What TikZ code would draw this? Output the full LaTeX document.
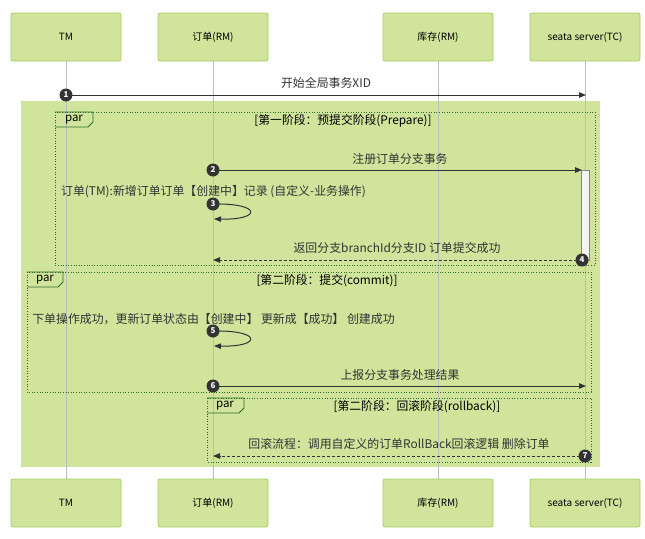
\documentclass[tikz,border=0pt]{standalone}
\usepackage{fontspec}
\setmainfont{Noto Sans CJK SC}
\usetikzlibrary{arrows.meta}
\definecolor{bggreen}{HTML}{D0E49C}
\definecolor{boxborder}{HTML}{A8CF62}
\definecolor{framegreen}{HTML}{2F6B2A}
\definecolor{lifegray}{HTML}{BDBDBD}
\definecolor{msgdark}{HTML}{333333}
\definecolor{actfill}{HTML}{F4F4F4}
\tikzset{
  participant/.style={draw=boxborder, line width=0.8pt, fill=bggreen, rounded corners=2pt, minimum width=110pt, minimum height=48pt, inner sep=0pt, font=\fontsize{10}{12}\selectfont, text=black},
  lifeline/.style={draw=lifegray, line width=0.9pt},
  msg/.style={draw=msgdark, line width=1pt, -{Triangle[length=7pt,width=5.5pt]}},
  ret/.style={msg, dash pattern=on 3pt off 2pt},
  num/.style={circle, fill=msgdark, text=white, inner sep=0pt, minimum size=13pt, font=\fontsize{8}{8}\selectfont\bfseries},
  lbl/.style={font=\fontsize{11.9}{14}\selectfont, text=msgdark, inner sep=0pt},
  parframe/.style={draw=framegreen, line width=1pt, dash pattern=on 1pt off 1.6pt},
  partab/.style={draw=framegreen, line width=0.8pt},
  partitle/.style={font=\fontsize{11.8}{14}\selectfont, text=black, inner sep=0pt},
  parlbl/.style={font=\fontsize{11.5}{13}\selectfont, text=black, inner sep=0pt},
}
\begin{document}
\begin{tikzpicture}[x=1pt,y=-1pt]
\useasboundingbox (0,0) rectangle (645,538);
% background
\fill[bggreen] (21,101) rectangle (600,467);
% participants
\node[participant] (tmT) at (66,37) {TM};
\node[participant] (orT) at (213,37) {订单(RM)};
\node[participant] (stT) at (438,37) {库存(RM)};
\node[participant] (tcT) at (585,37) {seata server(TC)};
\node[participant] (tmB) at (66,503) {TM};
\node[participant] (orB) at (213,503) {订单(RM)};
\node[participant] (stB) at (438,503) {库存(RM)};
\node[participant] (tcB) at (585,503) {seata server(TC)};
\draw[lifeline] (tmT) -- (tmB);
\draw[lifeline] (orT) -- (orB);
\draw[lifeline] (stT) -- (stB);
\draw[lifeline] (tcT) -- (tcB);
% message 1
\coordinate (m1a) at (66,95);
\coordinate (m1b) at (586,95);
\node[lbl] (l1) at (326,83) {开始全局事务XID};
\draw[msg] (m1a) -- (m1b);
\node[num] (n1) at (m1a) {1};
% par 1
\draw[parframe] (55,112) rectangle (595,265);
\draw[partab] (55,112) -- (93,112) -- (93,122) -- (88,127) -- (55,127);
\node[parlbl] (p1) at (74,120) {par};
\node[partitle] (t1) at (343,121) {[第一阶段：预提交阶段(Prepare)]};
% activation
\node[draw=msgdark!60, line width=0.6pt, fill=actfill, minimum width=8pt, minimum height=90pt, inner sep=0pt] (act) at (585,215) {};
% message 2
\coordinate (m2a) at (213,170);
\coordinate (m2b) at (582,170);
\node[lbl] (l2) at (400,159) {注册订单分支事务};
\draw[msg] (m2a) -- (m2b);
\node[num] (n2) at (m2a) {2};
% message 3
\coordinate (m3a) at (213,204);
\coordinate (m3b) at (214,219);
\node[lbl] (l3) at (213.5,192) {订单(TM):新增订单订单【创建中】记录 (自定义-业务操作)};
\draw[msg] (m3a) .. controls (262,203) and (262,220) .. (m3b);
\node[num] (n3) at (m3a) {3};
% message 4
\coordinate (m4a) at (582,260);
\coordinate (m4b) at (213,260);
\node[lbl] (l4) at (397,248) {返回分支branchId分支ID 订单提交成功};
\draw[ret] (m4a) -- (m4b);
\node[num] (n4) at (m4a) {4};
% par 2
\draw[parframe] (27,272) rectangle (591,392);
\draw[partab] (27,272) -- (63,272) -- (63,282) -- (58,287) -- (27,287);
\node[parlbl] (p2) at (45,280) {par};
\node[partitle] (t2) at (327,281) {[第二阶段：提交(commit)]};
% message 5
\coordinate (m5a) at (213,331);
\coordinate (m5b) at (214,346);
\node[lbl] (l5) at (213.5,319) {下单操作成功，更新订单状态由【创建中】 更新成【成功】 创建成功};
\draw[msg] (m5a) .. controls (262,330) and (262,347) .. (m5b);
\node[num] (n5) at (m5a) {5};
% message 6
\coordinate (m6a) at (213,386);
\coordinate (m6b) at (586,386);
\node[lbl] (l6) at (400,375) {上报分支事务处理结果};
\draw[msg] (m6a) -- (m6b);
\node[num] (n6) at (m6a) {6};
% par 3
\draw[parframe] (207,398) rectangle (591,462);
\draw[partab] (207,398) -- (244,398) -- (244,408) -- (239,413) -- (207,413);
\node[parlbl] (p3) at (225,406) {par};
\node[partitle] (t3) at (417,407) {[第二阶段：回滚阶段(rollback)]};
% message 7
\coordinate (m7a) at (585,456);
\coordinate (m7b) at (213,456);
\node[lbl] (l7) at (399,444) {回滚流程：调用自定义的订单RollBack回滚逻辑 删除订单};
\draw[ret] (m7a) -- (m7b);
\node[num] (n7) at (m7a) {7};
\end{tikzpicture}
\end{document}
